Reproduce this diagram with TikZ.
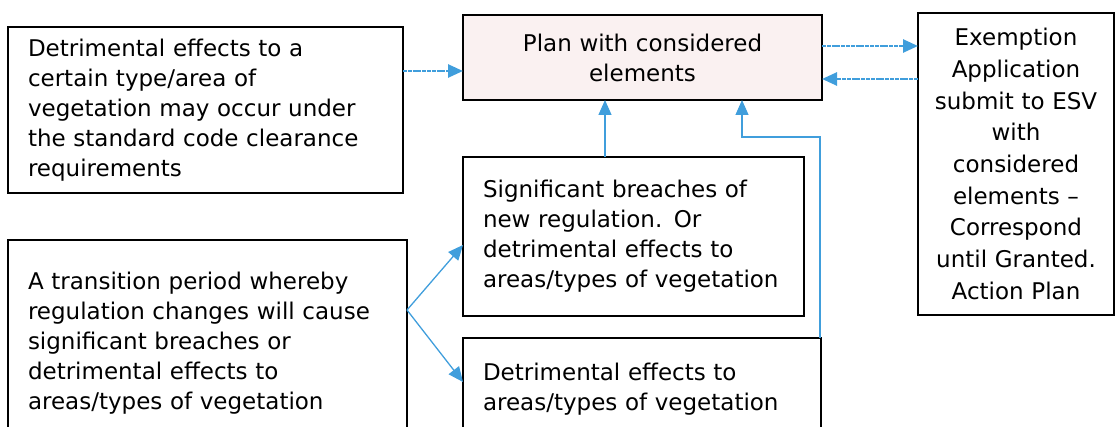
\documentclass[tikz,border=0pt]{standalone}
\usepackage{fontspec}
\setmainfont{DejaVu Sans}
\usetikzlibrary{arrows.meta}
\definecolor{flowblue}{RGB}{64,158,220}
\definecolor{planpink}{RGB}{250,241,241}
\tikzset{
  box/.style={draw=black, line width=1.4pt, anchor=north west, outer sep=0pt,
    inner ysep=0pt, font=\fontsize{23}{30}\selectfont},
  leftbox/.style={box, align=left, inner xsep=20pt},
  centbox/.style={box, align=center, inner xsep=6pt},
  flow/.style={draw=flowblue, line width=1.3pt, -{Triangle[length=15pt,width=13pt]}},
  dotflow/.style={flow, line width=2.6pt, dash pattern=on 4pt off 0.8pt},
}
\begin{document}
\begin{tikzpicture}[x=1pt,y=-1pt]
  \useasboundingbox (0,0) rectangle (1117,427);
  % boxes
  \node[leftbox, text width=355pt, minimum height=166pt] (cond) at (8,27)
    {Detrimental effects to a\\certain type/area of\\vegetation may occur under\\the standard code clearance\\requirements};
  \node[leftbox, text width=359pt, minimum height=206pt] (trans) at (8,240)
    {A transition period whereby\\regulation changes will cause\\significant breaches or\\detrimental effects to\\areas/types of vegetation};
  \node[centbox, fill=planpink, text width=347pt, minimum height=85pt] (plan) at (463,15)
    {Plan with considered\\elements};
  \node[centbox, text width=184pt, minimum height=302pt,
        font=\fontsize{23}{31.7}\selectfont] (apply) at (918,13)
    {Exemption\\Application\\submit to ESV\\with\\considered\\elements --\\Correspond\\until Granted.\\Action Plan};
  \node[leftbox, text width=301pt, minimum height=159pt] (breach) at (463,157)
    {Significant breaches of\\new regulation. Or\\detrimental effects to\\areas/types of vegetation};
  \node[leftbox, text width=318pt, minimum height=102pt] (effect) at (463,338)
    {Detrimental effects to\\areas/types of vegetation};
  % connectors
  \coordinate (fork) at (trans.east |- 0,310);
  \coordinate (bend) at (742,137);
  \draw[dotflow] (cond.east |- 0,71) -- (plan.west |- 0,71);
  \draw[dotflow] (plan.east |- 0,46) -- (apply.west |- 0,46);
  \draw[dotflow] (apply.west |- 0,79) -- (plan.east |- 0,79);
  \draw[flow] (breach.north -| 605,0) -- (plan.south -| 605,0);
  \draw[flow] ([xshift=-1pt]effect.north east) |- (bend) -- (bend |- plan.south);
  \draw[flow] (fork) -- (breach.west |- 0,245);
  \draw[flow] (fork) -- (effect.west |- 0,382);
\end{tikzpicture}
\end{document}
